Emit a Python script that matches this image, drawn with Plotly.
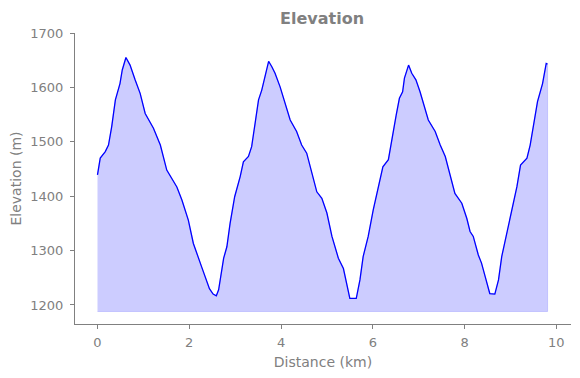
import plotly.graph_objects as go

distance_km = [0.0, 0.06, 0.17, 0.24, 0.31, 0.39, 0.49, 0.54, 0.62, 0.71, 0.82, 0.93, 1.04, 1.22, 1.37,
               1.51, 1.73, 1.84, 1.98, 2.09, 2.27, 2.35, 2.44, 2.52, 2.59, 2.64, 2.75, 2.82, 2.89, 2.99,
               3.11, 3.18, 3.29, 3.36, 3.44, 3.51, 3.58, 3.65, 3.73, 3.80, 3.87, 3.98, 4.09, 4.20, 4.34,
               4.45, 4.56, 4.67, 4.78, 4.89, 5.00, 5.11, 5.25, 5.36, 5.43, 5.50, 5.64, 5.72, 5.79, 5.90,
               6.01, 6.12, 6.22, 6.34, 6.41, 6.51, 6.58, 6.65, 6.69, 6.78, 6.85, 6.94, 7.03, 7.10, 7.21,
               7.36, 7.47, 7.58, 7.68, 7.79, 7.94, 8.05, 8.12, 8.19, 8.30, 8.37, 8.45, 8.55, 8.66, 8.74,
               8.81, 8.92, 9.03, 9.14, 9.22, 9.36, 9.43, 9.50, 9.59, 9.70, 9.78, 9.81]
elevation_m = [1439, 1470, 1482, 1494, 1528, 1577, 1607, 1632, 1655, 1641, 1614, 1589, 1552, 1525, 1494,
               1448, 1417, 1393, 1356, 1313, 1270, 1252, 1230, 1220, 1217, 1228, 1286, 1307, 1350, 1399,
               1436, 1463, 1473, 1491, 1537, 1577, 1595, 1620, 1648, 1638, 1626, 1601, 1571, 1540, 1519,
               1494, 1479, 1442, 1408, 1396, 1369, 1326, 1286, 1267, 1240, 1212, 1212, 1246, 1289, 1326,
               1375, 1414, 1454, 1467, 1503, 1549, 1580, 1592, 1617, 1641, 1626, 1614, 1592, 1571, 1540,
               1519, 1494, 1473, 1442, 1405, 1387, 1359, 1335, 1326, 1292, 1277, 1252, 1221, 1220, 1246,
               1289, 1332, 1375, 1417, 1457, 1470, 1494, 1531, 1574, 1607, 1644, 1643]
fill_base = 1188

x_ticks = [0, 2, 4, 6, 8, 10]
y_ticks = [1200, 1300, 1400, 1500, 1600, 1700]

GRAY = "#808080"
FONT = "DejaVu Sans"

fig = go.Figure()
fig.add_trace(go.Scatter(
    x=distance_km + [distance_km[-1], distance_km[0]],
    y=elevation_m + [fill_base, fill_base],
    fill="toself", fillcolor="rgba(0,0,255,0.2)",
    line=dict(color="rgba(0,0,255,0.15)", width=1),
    mode="lines", hoverinfo="skip", showlegend=False))
fig.add_trace(go.Scatter(
    x=distance_km, y=elevation_m, mode="lines",
    line=dict(color="blue", width=1.3), showlegend=False))

axis_common = dict(showgrid=False, zeroline=False, showline=True, linecolor=GRAY, linewidth=1,
                   ticks="outside", ticklen=4, tickcolor=GRAY, tickwidth=1, automargin=False,
                   tickfont=dict(family=FONT, size=13, color=GRAY),
                   title_font=dict(family=FONT, size=14, color=GRAY))

# the page body has an 8px margin, so the figure is drawn 8px in from the top-left corner
fig.update_layout(
    width=572, height=370,
    margin=dict(l=67, r=9, t=25, b=54, autoexpand=False),
    plot_bgcolor="white", paper_bgcolor="white",
    title=dict(text="<b>Elevation</b>", x=0.549, xanchor="center", y=0.973, yanchor="middle",
               font=dict(family=FONT, size=16, color=GRAY)),
    xaxis=dict(range=[-0.49, 10.32], tickvals=x_ticks, ticktext=[str(v) for v in x_ticks],
               ticklabelstandoff=2,
               title=dict(text="Distance (km)", standoff=8), **axis_common),
    yaxis=dict(range=[1165, 1700], tickvals=y_ticks, ticktext=[str(v) for v in y_ticks],
               ticklabelstandoff=4,
               title=dict(text="Elevation (m)", standoff=6), **axis_common),
)

fig.write_html("out.html")
